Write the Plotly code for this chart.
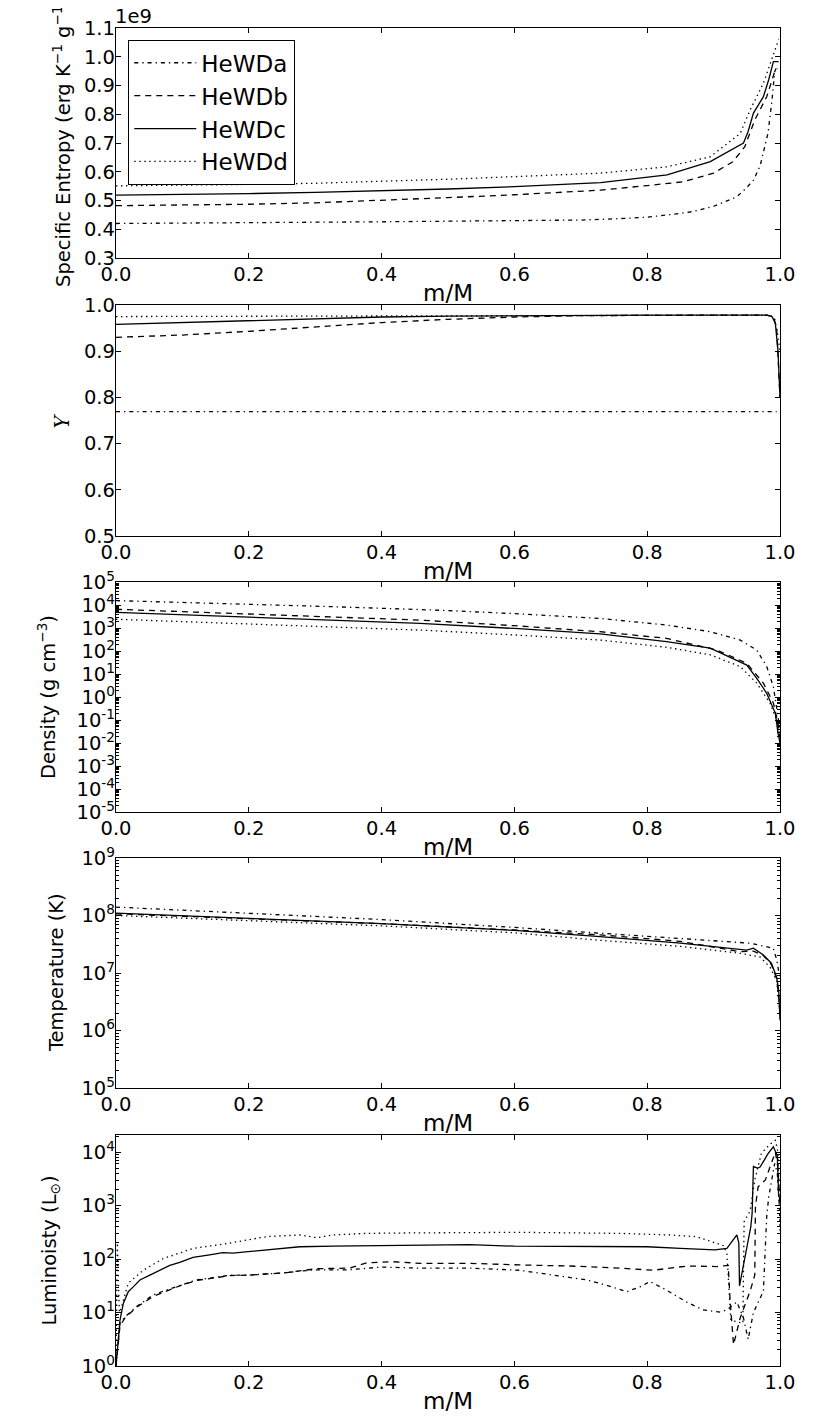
import plotly.graph_objects as go

# ------------------------------------------------------------------
# profiles of the four He white dwarf models vs mass coordinate m/M
# ------------------------------------------------------------------

# specific entropy (units of 1e9 erg K^-1 g^-1)
m_ent_a = [0.0, 0.1, 0.2, 0.3, 0.4, 0.5, 0.6, 0.7, 0.75, 0.8, 0.85, 0.87, 0.9, 0.935, 0.95, 0.96, 0.97, 0.975, 0.982, 0.988, 0.992, 0.996]
ent_a = [0.420, 0.421, 0.422, 0.424, 0.426, 0.428, 0.430, 0.432, 0.436, 0.442, 0.455, 0.462, 0.48, 0.513, 0.545, 0.571, 0.62, 0.665, 0.735, 0.85, 0.948, 0.97]
m_ent_b = [0.0, 0.1, 0.2, 0.3, 0.4, 0.5, 0.6, 0.7, 0.73, 0.8, 0.854, 0.9, 0.929, 0.947, 0.962, 0.98, 0.992, 0.996]
ent_b = [0.482, 0.484, 0.487, 0.492, 0.500, 0.510, 0.520, 0.532, 0.536, 0.552, 0.565, 0.595, 0.635, 0.687, 0.78, 0.861, 0.948, 0.96]
m_ent_c = [0.0, 0.1, 0.2, 0.3, 0.4, 0.5, 0.6, 0.7, 0.73, 0.83, 0.895, 0.945, 0.952, 0.96, 0.975, 0.983, 0.99, 0.998]
ent_c = [0.519, 0.521, 0.524, 0.528, 0.533, 0.540, 0.548, 0.557, 0.562, 0.589, 0.635, 0.70, 0.74, 0.804, 0.861, 0.92, 0.983, 0.983]
m_ent_d = [0.0, 0.1, 0.2, 0.3, 0.4, 0.5, 0.6, 0.7, 0.729, 0.829, 0.895, 0.94, 0.955, 0.975, 0.995, 0.998]
ent_d = [0.551, 0.553, 0.556, 0.560, 0.566, 0.574, 0.583, 0.592, 0.595, 0.617, 0.652, 0.733, 0.815, 0.908, 1.047, 1.06]

# helium mass fraction Y
m_y_a = [0.0, 0.5, 0.995]
y_a = [0.769, 0.769, 0.769]
m_y_b = [0.0, 0.1, 0.2, 0.3, 0.4, 0.5, 0.6, 0.7, 0.8, 0.9, 0.98, 0.99, 0.995, 0.998, 1.0]
y_b = [0.930, 0.935, 0.943, 0.952, 0.962, 0.969, 0.974, 0.977, 0.978, 0.978, 0.978, 0.975, 0.95, 0.85, 0.80]
m_y_c = [0.0, 0.1, 0.2, 0.3, 0.4, 0.5, 0.6, 0.8, 0.98, 0.988, 0.993, 0.997, 1.0]
y_c = [0.958, 0.962, 0.966, 0.970, 0.974, 0.976, 0.977, 0.978, 0.978, 0.975, 0.96, 0.90, 0.80]
m_y_d = [0.0, 0.5, 0.9, 0.985, 0.992, 0.996, 1.0]
y_d = [0.975, 0.977, 0.978, 0.978, 0.97, 0.94, 0.90]

# density (g cm^-3)
m_rho_a = [0.0, 0.1, 0.2, 0.3, 0.4, 0.5, 0.6, 0.729, 0.829, 0.895, 0.94, 0.965, 0.98, 0.99, 0.997, 1.0]
rho_a = [1.55e4, 1.32e4, 1.10e4, 8.9e3, 7.2e3, 5.75e3, 4.2e3, 2.6e3, 1.35e3, 690, 300, 110, 21, 2.8, 0.14, 0.032]
m_rho_b = [0.0, 0.1, 0.2, 0.3, 0.4, 0.458, 0.6, 0.729, 0.829, 0.905, 0.95, 0.975, 0.99, 0.997, 1.0]
rho_b = [6.5e3, 5.1e3, 4.1e3, 3.2e3, 2.6e3, 2.2e3, 1.26e3, 690, 355, 110, 29, 4.0, 0.55, 0.074, 0.016]
m_rho_c = [0.0, 0.1, 0.2, 0.3, 0.4, 0.458, 0.6, 0.729, 0.829, 0.895, 0.95, 0.965, 0.98, 0.993, 0.997, 1.0]
rho_c = [4.8e3, 3.8e3, 2.95e3, 2.35e3, 1.8e3, 1.58e3, 955, 550, 257, 132, 24.5, 6.5, 1.45, 0.195, 0.027, 0.01]
m_rho_d = [0.0, 0.1, 0.2, 0.3, 0.4, 0.458, 0.6, 0.729, 0.829, 0.895, 0.94, 0.965, 0.985, 0.995, 1.0]
rho_d = [2.4e3, 1.9e3, 1.48e3, 1.17e3, 930, 810, 500, 300, 145, 68, 21, 4.0, 0.54, 0.1, 0.02]

# temperature (K)
m_t_a = [0.0, 0.2, 0.4, 0.6, 0.729, 0.85, 0.955, 0.99, 0.995, 1.0]
t_a = [1.4e8, 1.1e8, 8.5e7, 6.2e7, 4.9e7, 4.0e7, 3.3e7, 2.7e7, 1.7e7, 8e6]
m_t_b = [0.0, 0.2, 0.4, 0.6, 0.729, 0.85, 0.94, 0.96, 0.975, 0.987, 0.995, 1.0]
t_b = [1.07e8, 8.9e7, 7.2e7, 5.6e7, 4.6e7, 3.55e7, 2.35e7, 2.4e7, 2.0e7, 1.4e7, 7.9e6, 2.5e6]
m_t_c = [0.0, 0.2, 0.4, 0.6, 0.729, 0.85, 0.95, 0.96, 0.975, 0.987, 0.995, 0.998, 1.0]
t_c = [1.1e8, 8.9e7, 7.2e7, 5.5e7, 4.3e7, 3.3e7, 2.5e7, 2.7e7, 2.05e7, 1.48e7, 8.5e6, 5.0e6, 1.5e6]
m_t_d = [0.0, 0.2, 0.4, 0.6, 0.729, 0.85, 0.94, 0.97, 0.985, 0.995, 1.0]
t_d = [1.0e8, 8.1e7, 6.6e7, 5.0e7, 3.7e7, 2.9e7, 2.2e7, 1.9e7, 1.26e7, 7.4e6, 2.0e6]

# luminosity (L_sun)
m_l_a = [0.0, 0.006, 0.0135, 0.021, 0.031, 0.041, 0.056, 0.076, 0.096, 0.121, 0.141, 0.172, 0.2, 0.25, 0.3, 0.35, 0.4,
         0.458, 0.533, 0.608, 0.659, 0.709, 0.739, 0.769, 0.789, 0.804, 0.829, 0.859, 0.884, 0.91, 0.92, 0.935, 0.945,
         0.952, 0.96, 0.975, 0.98, 0.983, 0.992, 0.996, 1.0]
l_a = [1, 6.3, 8.3, 10, 12.9, 15.8, 21.4, 26.3, 32.4, 40.7, 43.7, 50.1, 50.1, 55, 63, 63, 70.8,
       67.6, 67.6, 61.7, 50.1, 40.7, 32.4, 24.5, 30.2, 38, 26.3, 15.8, 11.2, 10.2, 11.2, 15.8, 7.9,
       3.16, 10, 25.1, 631, 1445, 6166, 3981, 631]
m_l_b = [0.0, 0.006, 0.0135, 0.021, 0.031, 0.041, 0.056, 0.076, 0.096, 0.121, 0.141, 0.172, 0.2, 0.252, 0.302, 0.352,
         0.378, 0.418, 0.458, 0.533, 0.608, 0.684, 0.759, 0.809, 0.86, 0.905, 0.922, 0.925, 0.93, 0.94, 0.955, 0.962,
         0.963, 0.967, 0.978, 0.987, 0.993, 0.997, 1.0]
l_b = [1, 5.6, 7.9, 9.5, 12.6, 15.1, 20, 25.1, 31.6, 39.8, 42.7, 49, 50.1, 55, 66, 67.6,
       85.1, 89.1, 83.2, 83.2, 77.6, 74.1, 67.6, 61.7, 74.1, 72.4, 75.9, 15.8, 2.5, 7.9, 25.1, 50.1,
       955, 2239, 3020, 6166, 10000, 5012, 1000]
m_l_c = [0.0, 0.0035, 0.006, 0.011, 0.0185, 0.026, 0.036, 0.051, 0.066, 0.081, 0.096, 0.116, 0.141, 0.161, 0.176,
         0.227, 0.277, 0.327, 0.377, 0.428, 0.458, 0.533, 0.6, 0.7, 0.8, 0.85, 0.902, 0.92, 0.935, 0.938, 0.939,
         0.956, 0.958, 0.96, 0.966, 0.97, 0.982, 0.99, 0.996, 0.998]
l_c = [1, 3.09, 7.2, 14.8, 24.5, 30.2, 40.7, 50.1, 61.7, 75.9, 87.1, 107, 120, 132, 129,
       148, 170, 174, 178, 182, 182, 186, 174, 170, 170, 158, 148, 158, 282, 200, 31.6,
       398, 708, 5370, 5012, 5248, 9333, 12589, 8511, 1445]
m_l_d = [0.0, 0.002, 0.005, 0.0085, 0.0185, 0.041, 0.071, 0.116, 0.167, 0.227, 0.277, 0.302, 0.327, 0.377, 0.458,
         0.608, 0.759, 0.834, 0.874, 0.899, 0.915, 0.92, 0.923, 0.926, 0.944, 0.946, 0.955, 0.962, 0.972, 0.985,
         0.993, 0.997, 1.0]
l_d = [1, 200, 10, 12.9, 35.5, 61.7, 102, 158, 195, 263, 282, 251, 282, 302, 309,
       316, 302, 282, 263, 209, 178, 126, 31.6, 7.2, 6.3, 501, 794, 3020, 9550, 14125,
       16596, 10000, 316]

x_ticks = [0.0, 0.2, 0.4, 0.6, 0.8, 1.0]
rho_exps = list(range(-5, 6))
t_exps = list(range(5, 10))
l_exps = list(range(0, 5))

models = ["HeWDa", "HeWDb", "HeWDc", "HeWDd"]
dash_of = {"HeWDa": "4px,4px,1.3px,4px", "HeWDb": "6px,5px", "HeWDc": "solid", "HeWDd": "1.4px,3.6px"}

panels = [
    [(m_ent_a, ent_a), (m_ent_b, ent_b), (m_ent_c, ent_c), (m_ent_d, ent_d)],
    [(m_y_a, y_a), (m_y_b, y_b), (m_y_c, y_c), (m_y_d, y_d)],
    [(m_rho_a, rho_a), (m_rho_b, rho_b), (m_rho_c, rho_c), (m_rho_d, rho_d)],
    [(m_t_a, t_a), (m_t_b, t_b), (m_t_c, t_c), (m_t_d, t_d)],
    [(m_l_a, l_a), (m_l_b, l_b), (m_l_c, l_c), (m_l_d, l_d)],
]

# page has an 8px body margin, so the figure is laid out 8px in from the window corner
PAD = 8
W, H = 830 - 2 * PAD, 1423 - 2 * PAD
left_px, right_px = 116 - PAD, 780 - PAD
rows_px = [(28 - PAD, 258 - PAD), (305 - PAD, 536 - PAD), (582 - PAD, 812 - PAD),
           (858 - PAD, 1088 - PAD), (1135 - PAD, 1366 - PAD)]
ytitle_x_px = [62 - PAD, 62 - PAD, 47 - PAD, 56 - PAD, 50 - PAD]

fig = go.Figure()

for p, series in enumerate(panels):
    sfx = "" if p == 0 else str(p + 1)
    for name, (mm, vals) in zip(models, series):
        fig.add_trace(go.Scatter(
            x=mm, y=vals, mode="lines", name=name,
            line=dict(color="black", width=1.3, dash=dash_of[name]),
            showlegend=(p == 0),
            xaxis="x" + sfx, yaxis="y" + sfx,
        ))

axis_base = dict(
    showline=True, linecolor="black", linewidth=1.3, mirror="ticks",
    ticks="inside", ticklen=5, tickwidth=1, tickcolor="black", automargin=False,
    showgrid=False, zeroline=False, tickfont=dict(size=19.5, color="black"),
)
minor_log = dict(ticks="inside", ticklen=2.5, tickwidth=1, tickcolor="black", dtick="D1", showgrid=False)


def pow_text(exps):
    return ["10<sup>%d</sup>" % k for k in exps]


y_specs = [
    dict(range=[0.3, 1.1], tickvals=[0.3, 0.4, 0.5, 0.6, 0.7, 0.8, 0.9, 1.0, 1.1], tickformat=".1f"),
    dict(range=[0.5, 1.0], tickvals=[0.5, 0.6, 0.7, 0.8, 0.9, 1.0], tickformat=".1f"),
    dict(type="log", range=[-5, 5], tickmode="array", tickvals=[10.0 ** k for k in rho_exps],
         ticktext=pow_text(rho_exps), minor=minor_log),
    dict(type="log", range=[5, 9], tickmode="array", tickvals=[10.0 ** k for k in t_exps],
         ticktext=pow_text(t_exps), minor=minor_log),
    dict(type="log", range=[0, 4.32], tickmode="array", tickvals=[10.0 ** k for k in l_exps],
         ticktext=pow_text(l_exps), minor=minor_log),
]
y_titles = [
    "Specific Entropy (erg K<sup>−1</sup> g<sup>−1</sup>)",
    "<i>Y</i>",
    "Density (g cm<sup>−3</sup>)",
    "Temperature (K)",
    "Luminoisty (L<sub>⊙</sub>)",
]

layout = dict(
    width=W, height=H, margin=dict(l=0, r=0, t=0, b=0),
    paper_bgcolor="white", plot_bgcolor="white",
    font=dict(family="DejaVu Sans", size=19.5, color="black"),
    legend=dict(x=(128 - PAD) / W, y=1 - (40 - PAD) / H, xanchor="left", yanchor="top",
                bordercolor="black", borderwidth=1.3, bgcolor="white",
                tracegroupgap=0, itemwidth=62, font=dict(size=23)),
)
for p, (top, bot) in enumerate(rows_px):
    n = "" if p == 0 else str(p + 1)
    layout["xaxis" + n] = dict(
        axis_base, domain=[left_px / W, right_px / W], anchor="y" + n,
        range=[0, 1], tickvals=x_ticks, tickformat=".1f", ticklabelstandoff=-2,
        title=dict(text="m/M", standoff=0),
    )
    layout["yaxis" + n] = dict(axis_base, domain=[1 - bot / H, 1 - top / H], anchor="x" + n,
                               ticklabelstandoff=-4, **y_specs[p])

fig.update_layout(**layout)

# y-axis labels, placed where the reference puts them
for p, (top, bot) in enumerate(rows_px):
    fig.add_annotation(
        text=y_titles[p], xref="paper", yref="paper",
        x=ytitle_x_px[p] / W, y=1 - (top + bot) / 2 / H,
        xanchor="center", yanchor="middle", textangle=-90, showarrow=False,
        font=dict(size=19.5, family="DejaVu Serif" if p == 1 else "DejaVu Sans"),
    )

# scale factor shown above the entropy axis
fig.add_annotation(text="1e9", xref="paper", yref="paper", x=left_px / W, y=1 - rows_px[0][0] / H,
                   xanchor="left", yanchor="bottom", xshift=-3, yshift=-2, showarrow=False,
                   font=dict(size=19.5))

fig.write_html("out.html")
